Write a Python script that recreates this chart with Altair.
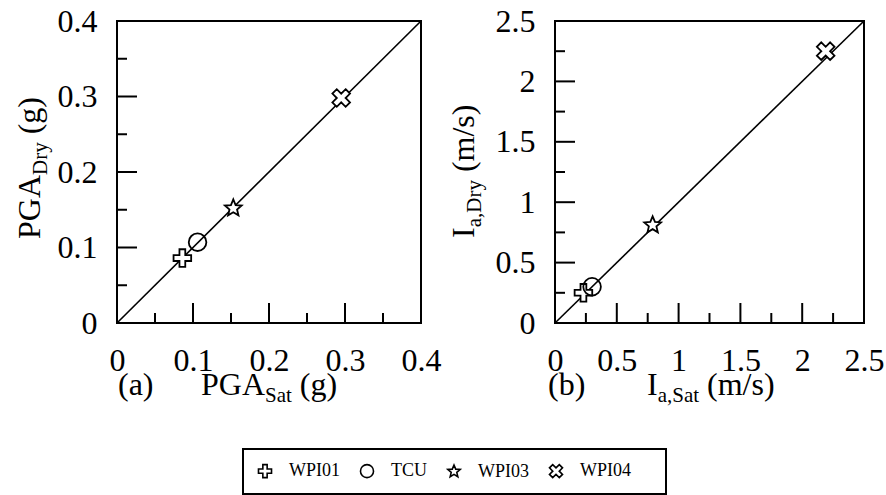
import altair as alt
import pandas as pd

# ---------------- data ----------------
stations = ["WPI01", "TCU", "WPI03", "WPI04"]
pga_sat = [0.086, 0.106, 0.153, 0.295]
pga_dry = [0.086, 0.107, 0.152, 0.298]
ia_sat = [0.23, 0.30, 0.79, 2.19]
ia_dry = [0.25, 0.30, 0.81, 2.25]

pga_domain = [0, 0.4]
pga_labels = [0, 0.1, 0.2, 0.3, 0.4]
pga_major = [0.1, 0.2, 0.3]
pga_minor = [0.05, 0.15, 0.25, 0.35]

ia_domain = [0, 2.5]
ia_labels = [0, 0.5, 1, 1.5, 2, 2.5]
ia_major = [0.5, 1, 1.5, 2]
ia_minor = [0.25, 0.75, 1.25, 1.75, 2.25]

# ---------------- style ----------------
FONT = "Liberation Serif"
TICK_FS = 32
TITLE_FS = 32
SUB_FS = 21
SUB_DY = 7
H = 302
W_A = 304
W_B = 309

PLUS = ("M-0.33,-1L0.33,-1L0.33,-0.33L1,-0.33L1,0.33L0.33,0.33L0.33,1"
        "L-0.33,1L-0.33,0.33L-1,0.33L-1,-0.33L-0.33,-0.33Z")
XSHAPE = ("M0.504,-1L1,-0.504L0.497,0L1,0.504L0.504,1L0,0.497L-0.504,1"
          "L-1,0.504L-0.497,0L-1,-0.504L-0.504,-1L0,-0.497Z")
STAR = ("M0,-1L0.265,-0.364L0.951,-0.309L0.428,0.139L0.588,0.809L0,0.45"
        "L-0.588,0.809L-0.428,0.139L-0.951,-0.309L-0.265,-0.364Z")
shape_range = [PLUS, "circle", STAR, XSHAPE]
fill_range = ["white", "transparent", "white", "white"]

CW = {"P": .556, "G": .722, "A": .722, "S": .556, "a": .444, "t": .278,
      " ": .25, "(": .333, ")": .333, "g": .5, "D": .722, "r": .333,
      "y": .5, "I": .333, ",": .25, "m": .778, "/": .278, "s": .389}


def tw(s, fs):
    return sum(CW.get(c, .5) for c in s) * fs


def text_piece(txt, x, y, fs, angle=0):
    kw = dict(align="left", baseline="alphabetic", font=FONT, fontSize=fs,
              color="black")
    if angle:
        kw["angle"] = angle
    return alt.Chart(pd.DataFrame({"t": [txt]})).mark_text(**kw).encode(
        text="t:N", x=alt.value(x), y=alt.value(y))


def title_pieces(pieces, x0, y0, vertical=False):
    """pieces: list of (text, is_sub, gap_before_in_em)"""
    layers = []
    pos = 0.0
    for txt, sub, gap in pieces:
        fs = SUB_FS if sub else TITLE_FS
        pos += gap * TITLE_FS
        off = SUB_DY if sub else 0
        if vertical:
            layers.append(text_piece(txt, x0 + off, y0 - pos, fs, angle=270))
        else:
            layers.append(text_piece(txt, x0 + pos, y0 + off, fs))
        pos += tw(txt, fs)
    return layers


def panel(xs, ys, dom, labels, major, minor, W, xtitle, ytitle, tag,
          tag_x, xt_x, yt_x, yt_y, anchor=False):
    xsc = alt.Scale(domain=dom, nice=False, zero=False)
    ysc = alt.Scale(domain=dom, nice=False, zero=False)
    common = dict(values=labels, format="~g", title=None, labelFlush=False,
                  labelOverlap=False, labelFont=FONT, labelFontSize=TICK_FS,
                  labelColor="black", domain=False, ticks=False, tickSize=0,
                  grid=False)
    xax = alt.Axis(labelPadding=22, **common)
    yax = alt.Axis(labelPadding=20, **common)

    def X(f):
        return alt.X(f, type="quantitative", scale=xsc, axis=xax)

    def Y(f):
        return alt.Y(f, type="quantitative", scale=ysc, axis=yax)

    diag = alt.Chart(pd.DataFrame({"v": dom})).mark_line(
        color="black", strokeWidth=1.6).encode(x=X("v"), y=Y("v"))

    df = pd.DataFrame({"station": stations, "sat": xs, "dry": ys})
    pts = alt.Chart(df).mark_point(size=310, strokeWidth=1.8, opacity=1,
                                   stroke="black").encode(
        x=X("sat"), y=Y("dry"),
        shape=alt.Shape("station:N",
                        scale=alt.Scale(domain=stations, range=shape_range),
                        legend=alt.Legend(orient="none", legendX=126, legendY=428,
                                          direction="horizontal",
                                          title="\u00a0", titleOrient="right",
                                          titlePadding=22, titleFontSize=10,
                                          columns=4,
                                          symbolStrokeColor="black",
                                          symbolFillColor="white",
                                          symbolStrokeWidth=1.6,
                                          symbolOpacity=1,
                                          symbolSize=170)),
        fill=alt.Fill("station:N",
                      scale=alt.Scale(domain=stations, range=fill_range),
                      legend=None),
    )

    xmaj = alt.Chart(pd.DataFrame({"t": major})).mark_rule(
        color="black", strokeWidth=2).encode(x=X("t"), y=alt.value(H), y2=alt.value(H - 20))
    xmin = alt.Chart(pd.DataFrame({"t": minor})).mark_rule(
        color="black", strokeWidth=2).encode(x=X("t"), y=alt.value(H), y2=alt.value(H - 10))
    ymaj = alt.Chart(pd.DataFrame({"t": major})).mark_rule(
        color="black", strokeWidth=2).encode(y=Y("t"), x=alt.value(0), x2=alt.value(20))
    ymin = alt.Chart(pd.DataFrame({"t": minor})).mark_rule(
        color="black", strokeWidth=2).encode(y=Y("t"), x=alt.value(0), x2=alt.value(10))

    layers = [xmaj, xmin, ymaj, ymin, diag, pts]
    layers.append(text_piece(tag, tag_x, 374, TITLE_FS))
    layers += title_pieces(xtitle, xt_x, 374)
    layers += title_pieces(ytitle, yt_x, yt_y, vertical=True)
    if anchor:
        layers.append(alt.Chart(pd.DataFrame({"t": [0]})).mark_rule(
            opacity=0, strokeWidth=0).encode(
            x=alt.value(-116), x2=alt.value(-116), y=alt.value(-20), y2=alt.value(-20)))
    return alt.layer(*layers).properties(width=W, height=H)


pa = panel(pga_sat, pga_dry, pga_domain, pga_labels, pga_major, pga_minor, W_A,
           [("PGA", False, 0), ("Sat", True, 0), ("(g)", False, 0.25)],
           [("PGA", False, 0), ("Dry", True, 0), ("(g)", False, 0.25)],
           "(a)", 1, 84, -77, 218, anchor=True)
pb = panel(ia_sat, ia_dry, ia_domain, ia_labels, ia_major, ia_minor, W_B,
           [("I", False, 0), ("a,Sat", True, 0), ("(m/s)", False, 0.25)],
           [("I", False, 0), ("a,Dry", True, 0), ("(m/s)", False, 0.25)],
           "(b)", -7, 92, -81, 217)

chart = alt.hconcat(pa, pb, spacing=134, bounds="flush").resolve_scale(
    shape="shared", fill="shared", x="independent", y="independent"
).properties(padding=0, background="white").configure_view(
    stroke="black", strokeWidth=2
).configure_axis(
    domain=False, ticks=False, tickSize=0, grid=False,
    labelFont=FONT, labelFontSize=TICK_FS, labelColor="black"
).configure_legend(
    labelFont=FONT, labelFontSize=18, labelColor="black",
    symbolSize=170, symbolStrokeColor="black", symbolFillColor="white",
    symbolStrokeWidth=1.6,
    strokeColor="black", strokeWidth=2, padding=13,
    columnPadding=17, labelOffset=15
)

chart.save("out.html", embed_options={"renderer": "svg", "actions": False})
